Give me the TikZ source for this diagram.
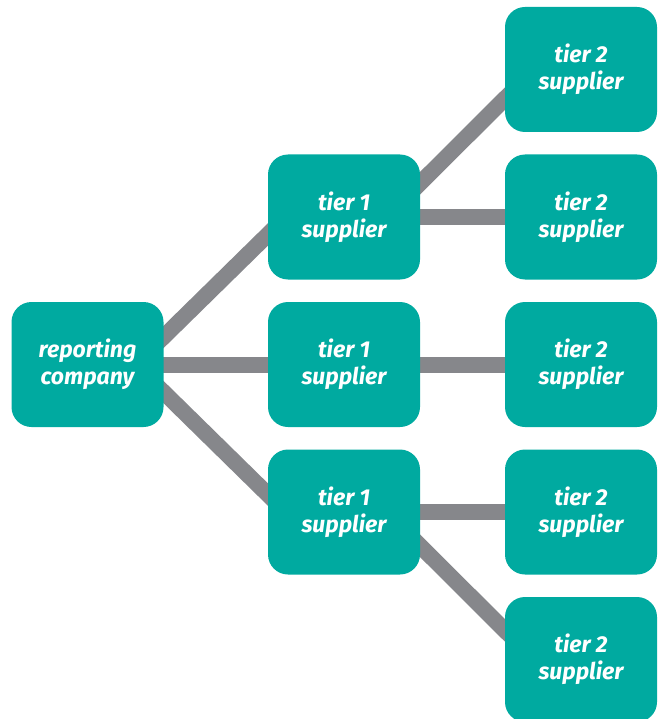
\documentclass[tikz,border=0pt]{standalone}
\usepackage{fontspec}
\setmainfont{Fira Sans}
\usetikzlibrary{backgrounds}
\definecolor{teal}{RGB}{0,170,160}
\definecolor{linkgray}{RGB}{134,135,139}

\begin{document}
\begin{tikzpicture}[x=1pt, y=-1pt,
    supplier/.style={fill=teal, rounded corners=20pt, minimum width=152pt, minimum height=125pt,
        text=white, align=center, font=\fontsize{23}{27}\selectfont\bfseries\itshape, inner sep=0pt},
    link/.style={draw=linkgray, line width=16pt, shorten <=-25pt, shorten >=-25pt}]
\useasboundingbox (0,0) rectangle (658,719);

% companies
\node[supplier] (rc) at (87.5,364.5) {reporting\\company};

\node[supplier] (t1a) at (344,217) {tier 1\\supplier};
\node[supplier] (t1b) at (344,364.5) {tier 1\\supplier};
\node[supplier] (t1c) at (344,512) {tier 1\\supplier};

\node[supplier] (t2a) at (581,69.5) {tier 2\\supplier};
\node[supplier] (t2b) at (581,217) {tier 2\\supplier};
\node[supplier] (t2c) at (581,364.5) {tier 2\\supplier};
\node[supplier] (t2d) at (581,512) {tier 2\\supplier};
\node[supplier] (t2e) at (581,659.5) {tier 2\\supplier};

% links, behind the boxes
\begin{pgfonlayer}{background}
\draw[link] (rc.20) -- (t1a.193);
\draw[link] (rc.east) -- (t1b.west);
\draw[link] (rc.-20) -- (t1c.167);
\draw[link] (t1a.24) -- (t2a.201);
\draw[link] (t1a.east) -- (t2b.west);
\draw[link] (t1b.east) -- (t2c.west);
\draw[link] (t1c.east) -- (t2d.west);
\draw[link] (t1c.-24) -- (t2e.159);
\end{pgfonlayer}
\end{tikzpicture}
\end{document}
